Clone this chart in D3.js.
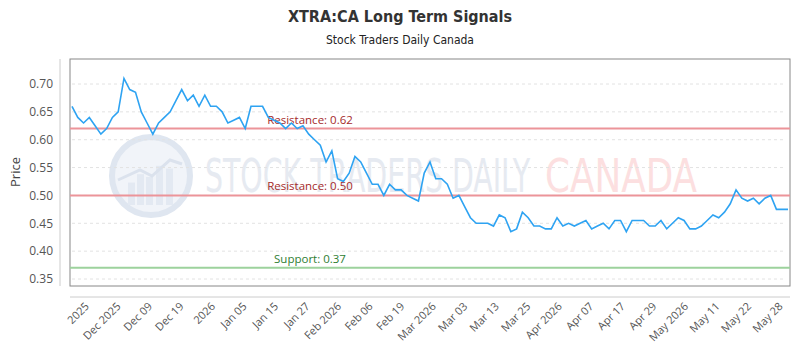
<!DOCTYPE html>
<html>
<head>
<meta charset="utf-8">
<script src="https://cdn.jsdelivr.net/npm/d3@7"></script>
<style>
  body { margin: 0; background: #fff; }
  svg text { font-family: "Open Sans", sans-serif; }
</style>
</head>
<body>
<svg id="chart" width="800" height="350"></svg>
<script>
// closing prices, one per trading day
const prices = [
  0.66, 0.64, 0.63, 0.64, 0.625, 0.61, 0.62, 0.64, 0.65, 0.71,
  0.69, 0.685, 0.65, 0.63, 0.61, 0.63, 0.64, 0.65, 0.67, 0.69,
  0.67, 0.68, 0.66, 0.68, 0.66, 0.66, 0.65, 0.63, 0.635, 0.64,
  0.62, 0.66, 0.66, 0.66, 0.64, 0.635, 0.63, 0.62, 0.63, 0.62,
  0.625, 0.61, 0.60, 0.59, 0.56, 0.58, 0.53, 0.525, 0.54, 0.57,
  0.56, 0.54, 0.52, 0.52, 0.50, 0.52, 0.51, 0.51, 0.50, 0.495,
  0.49, 0.54, 0.56, 0.53, 0.53, 0.52, 0.495, 0.50, 0.48, 0.46,
  0.45, 0.45, 0.45, 0.445, 0.465, 0.46, 0.435, 0.44, 0.47, 0.46,
  0.445, 0.445, 0.44, 0.44, 0.46, 0.445, 0.45, 0.445, 0.45, 0.455,
  0.44, 0.445, 0.45, 0.44, 0.455, 0.455, 0.435, 0.455, 0.455, 0.455,
  0.445, 0.445, 0.455, 0.44, 0.45, 0.46, 0.455, 0.44, 0.44, 0.445,
  0.455, 0.465, 0.46, 0.47, 0.485, 0.51, 0.495, 0.49, 0.495, 0.485,
  0.495, 0.50, 0.475, 0.475, 0.475
];

const tickLabels = [
  "2025", "Dec 2025", "Dec 09", "Dec 19", "2026", "Jan 05", "Jan 15", "Jan 27",
  "Feb 2026", "Feb 06", "Feb 19", "Mar 2026", "Mar 03", "Mar 13", "Mar 25",
  "Apr 2026", "Apr 07", "Apr 17", "Apr 29", "May 2026", "May 11", "May 22", "May 28"
];

const yTicks = [0.35, 0.40, 0.45, 0.50, 0.55, 0.60, 0.65, 0.70];

const levels = [
  { label: "Resistance: 0.62", value: 0.62, kind: "res" },
  { label: "Resistance: 0.50", value: 0.50, kind: "res" },
  { label: "Support: 0.37", value: 0.37, kind: "sup" }
];

const frame = { left: 70, right: 790, top: 59, bottom: 286 };

const svg = d3.select("#chart");

const x = d3.scaleLinear()
  .domain([0, prices.length - 1])
  .range([72, 788]);

const y = d3.scaleLinear()
  .domain([0.35, 0.70])
  .range([279, 84]);

// title
svg.append("text")
  .attr("x", 400).attr("y", 22)
  .attr("text-anchor", "middle")
  .style("font-family", "'Liberation Sans Narrow', 'DejaVu Sans Condensed', sans-serif")
  .style("font-weight", "bold")
  .style("font-size", "16px")
  .attr("fill", "#333")
  .text("XTRA:CA Long Term Signals");

svg.append("text")
  .attr("x", 400).attr("y", 44)
  .attr("text-anchor", "middle")
  .style("font-family", "'Liberation Sans Narrow', 'DejaVu Sans Condensed', sans-serif")
  .style("font-size", "12px")
  .attr("fill", "#222")
  .text("Stock Traders Daily Canada");

// watermark
const wm = svg.append("g").attr("class", "watermark");
wm.append("circle")
  .attr("cx", 151).attr("cy", 176).attr("r", 39)
  .attr("fill", "#f1f4f9")
  .attr("stroke", "#dfe6f0").attr("stroke-width", 6);
[[128, 16], [137, 22], [146, 20], [156, 28], [166, 26]].forEach(([bx, bh]) => {
  wm.append("rect")
    .attr("x", bx).attr("y", 205 - bh * 1.4).attr("width", 7).attr("height", bh * 1.4)
    .attr("fill", "#e3e9f2");
});
wm.append("path")
  .attr("d", "M118,180 L140,170 L152,176 L170,160 L182,164")
  .attr("fill", "none").attr("stroke", "#dbe2ed").attr("stroke-width", 3);
wm.append("text")
  .attr("x", 205).attr("y", 192)
  .attr("textLength", 325).attr("lengthAdjust", "spacingAndGlyphs")
  .style("font-family", "'DejaVu Sans Condensed', sans-serif")
  .style("font-size", "47px")
  .attr("fill", "#e6eaf1")
  .text("STOCK TRADERS DAILY");
wm.append("text")
  .attr("x", 545).attr("y", 192)
  .attr("textLength", 152).attr("lengthAdjust", "spacingAndGlyphs")
  .style("font-family", "'DejaVu Sans Condensed', sans-serif")
  .style("font-size", "47px")
  .attr("fill", "#fcdfe0")
  .text("CANADA");

// grid
svg.append("g")
  .selectAll("line")
  .data(yTicks)
  .join("line")
  .attr("x1", 72).attr("x2", 786)
  .attr("y1", d => y(d)).attr("y2", d => y(d))
  .attr("stroke", "#e2e2e2")
  .attr("stroke-dasharray", "3,3");

// frame
svg.append("rect")
  .attr("x", frame.left).attr("y", frame.top)
  .attr("width", frame.right - frame.left).attr("height", frame.bottom - frame.top)
  .attr("fill", "none")
  .attr("stroke", "#888")
  .attr("stroke-width", 1);

// y axis
const yAxis = svg.append("g")
  .attr("transform", "translate(60,0)")
  .call(d3.axisLeft(y).tickValues(yTicks).tickFormat(d3.format(".2f")).tickSize(0).tickPadding(7));
yAxis.select(".domain").attr("stroke", "#ccc").attr("d", `M0,${frame.top}V${frame.bottom}`);
yAxis.selectAll("text")
  .style("font-size", "12px")
  .attr("fill", "#555");

svg.append("text")
  .attr("transform", "translate(20,172) rotate(-90)")
  .attr("text-anchor", "middle")
  .style("font-size", "13px")
  .attr("fill", "#444")
  .text("Price");

// x axis
const tickIdx = tickLabels.map((d, k) => 3.0 + k * 5.46);
const xAxis = svg.append("g")
  .attr("transform", "translate(0,297)")
  .call(d3.axisBottom(x).tickValues(tickIdx).tickFormat((d, k) => tickLabels[k]).tickSize(0));
xAxis.select(".domain").attr("stroke", "#ccc").attr("d", `M${frame.left},0H${frame.right}`);
xAxis.selectAll("text")
  .style("font-size", "11px")
  .attr("fill", "#555")
  .style("text-anchor", "end")
  .attr("dy", "0")
  .attr("y", 0)
  .attr("transform", "translate(0,10) rotate(-45)");

// support / resistance lines
levels.forEach(l => {
  const col = l.kind === "res" ? "#ec9499" : "#9dd29d";
  const txt = l.kind === "res" ? "#a52a2a" : "#2e7d32";
  svg.append("line")
    .attr("x1", frame.left).attr("x2", frame.right)
    .attr("y1", y(l.value)).attr("y2", y(l.value))
    .attr("stroke", col).attr("stroke-width", 2);
  svg.append("text")
    .attr("x", frame.left + (frame.right - frame.left) / 3)
    .attr("y", y(l.value) - 5)
    .attr("text-anchor", "middle")
    .style("font-size", "11.5px")
    .attr("fill", txt)
    .text(l.label);
});

// price line
svg.append("path")
  .datum(prices)
  .attr("fill", "none")
  .attr("stroke", "#2ea3f2")
  .attr("stroke-width", 1.6)
  .attr("d", d3.line()
    .x((d, i) => x(i))
    .y(d => y(d)));
</script>
</body>
</html>
